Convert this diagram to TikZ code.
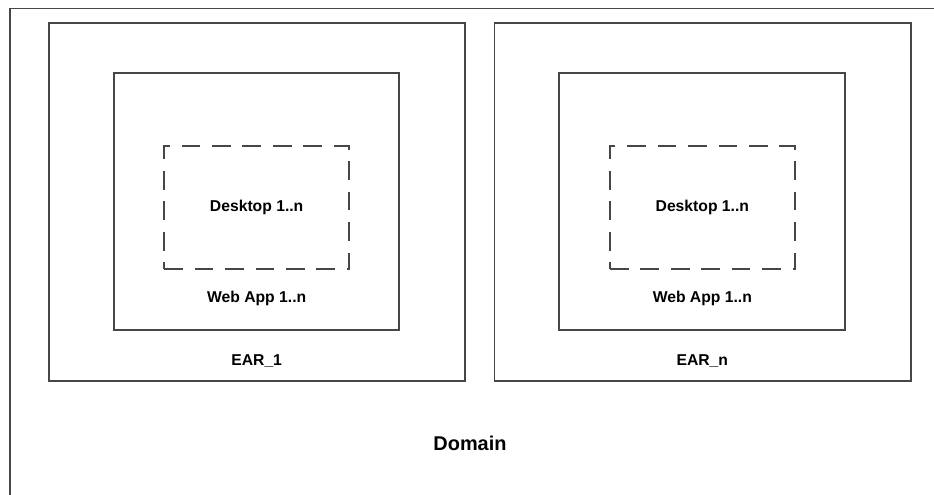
\documentclass[tikz,border=0pt]{standalone}
\usepackage{fontspec}
\setmainfont{Liberation Sans}
\usetikzlibrary{positioning}

\tikzset{
  box/.style={draw=black!72, line width=1.3pt, inner sep=0pt, fill=none},
  dashbox/.style={box, dash pattern=on 16pt off 10pt},
  lbl/.style={font=\bfseries\fontsize{13.4}{15}\selectfont, inner sep=0pt},
  biglbl/.style={font=\bfseries\fontsize{17}{20}\selectfont, inner sep=0pt}
}

\begin{document}
\begin{tikzpicture}
\useasboundingbox (0,0) rectangle (28.02,-14.85);
\clip (0,0) rectangle (28.02,-14.85);
% domain (runs off the page right and below)
\draw[draw=black!72, line width=1.3pt] (0.3,-0.26) rectangle (29,-16);
\node[biglbl] (domain) at (14.1,-13.3) {Domain};
% first EAR
\node[box, minimum width=12.48cm, minimum height=10.74cm] (ear1) at (7.71,-6.06) {};
\node[box, minimum width=8.55cm, minimum height=7.71cm] (web1) at (7.7,-6.05) {};
\node[dashbox, minimum width=5.55cm, minimum height=3.69cm] (desk1) at (7.7,-6.23) {};
\node[lbl] at (desk1) {Desktop 1..n};
\node[lbl] at (7.7,-8.94) {Web App 1..n};
\node[lbl] at (7.7,-10.83) {EAR\_1};
% second EAR
\node[box, minimum width=12.5cm, minimum height=10.74cm] (ear2) at (21.08,-6.06) {};
\node[box, minimum width=8.58cm, minimum height=7.71cm] (web2) at (21.06,-6.05) {};
\node[dashbox, minimum width=5.55cm, minimum height=3.69cm] (desk2) at (21.07,-6.23) {};
\node[lbl] at (desk2) {Desktop 1..n};
\node[lbl] at (21.07,-8.94) {Web App 1..n};
\node[lbl] at (21.07,-10.83) {EAR\_n};
\end{tikzpicture}
\end{document}
